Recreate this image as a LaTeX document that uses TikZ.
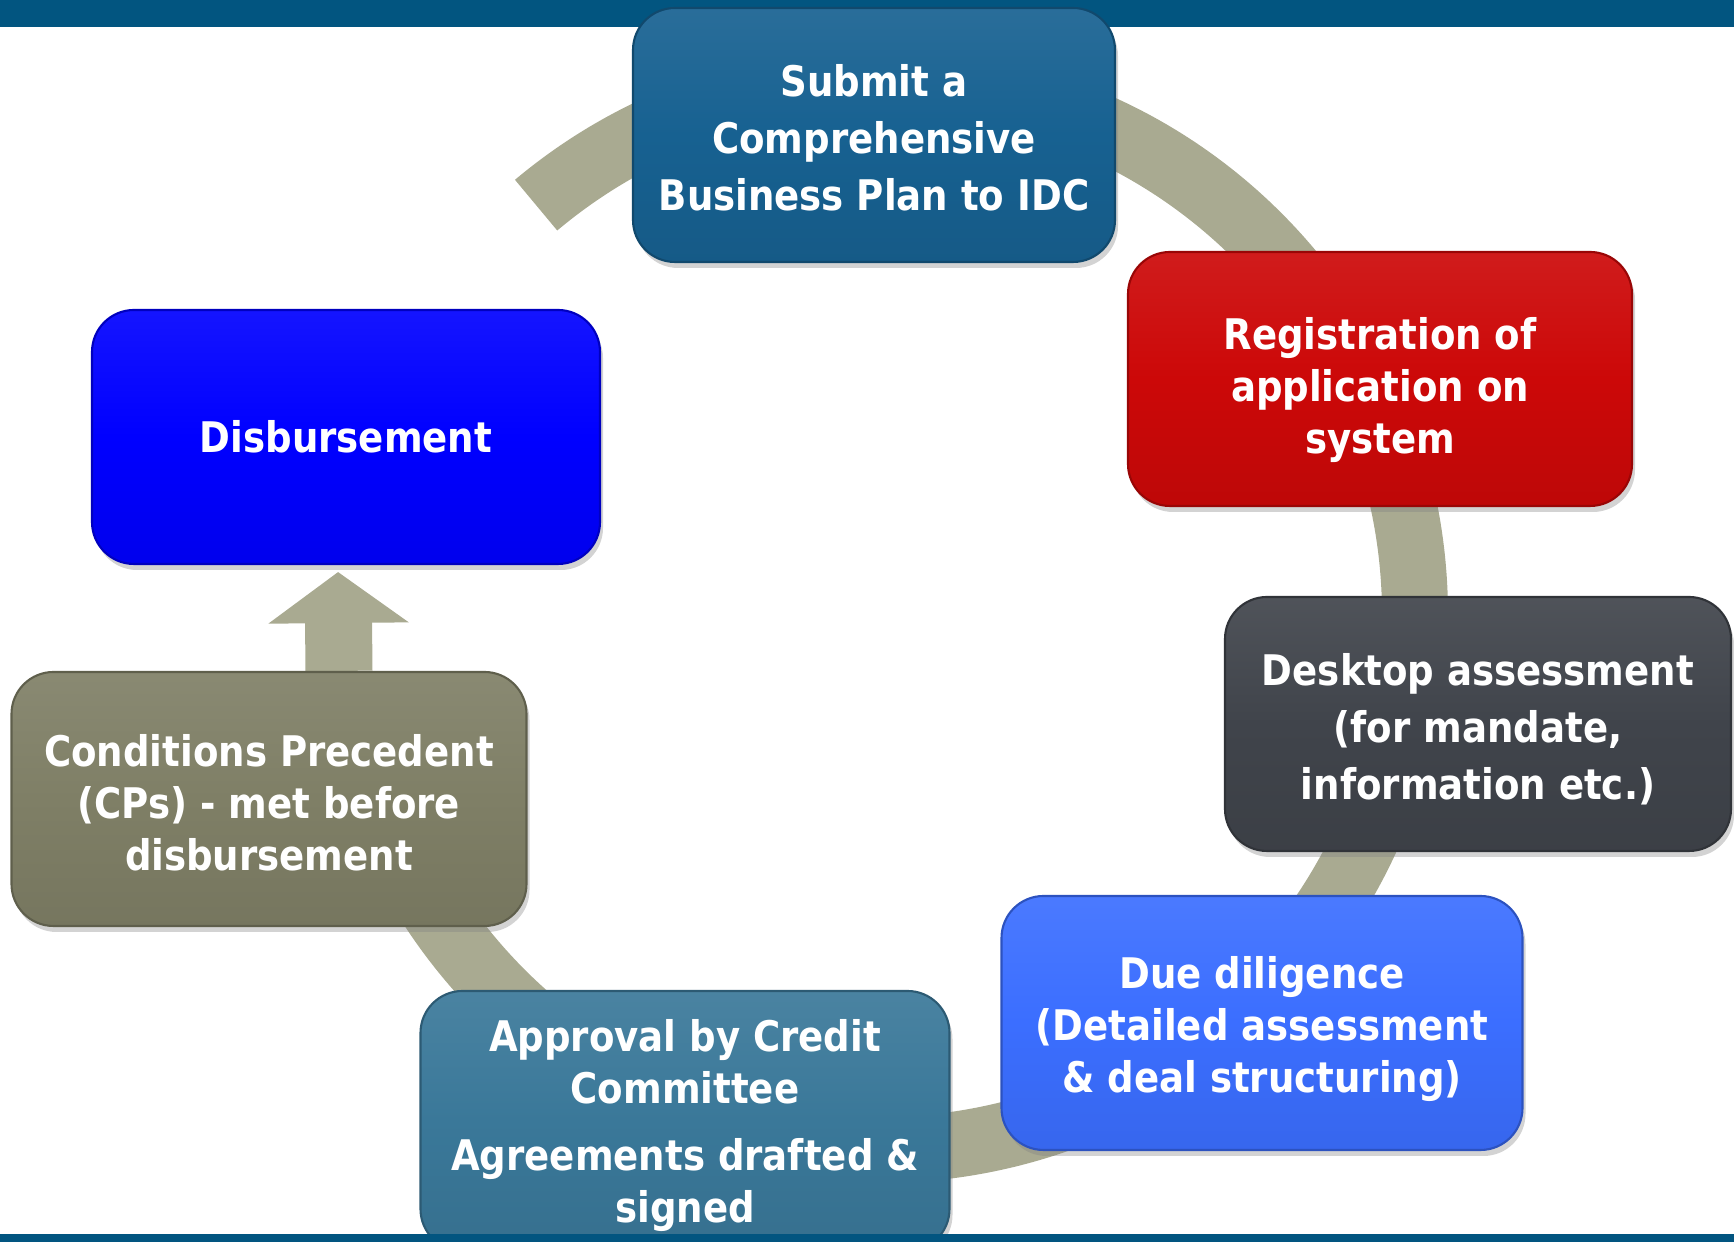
\documentclass[tikz,border=0pt]{standalone}
\usepackage{fontspec}
\setmainfont{DejaVu Sans}[FakeStretch=0.88]
\usetikzlibrary{arrows.meta,shadows,backgrounds}
\definecolor{barblue}{RGB}{2,85,128}
\definecolor{ringgray}{RGB}{169,170,145}
\definecolor{submitblue}{RGB}{23,97,145}
\definecolor{regred}{RGB}{204,8,8}
\definecolor{deskgray}{RGB}{64,68,75}
\definecolor{dueblue}{RGB}{59,110,255}
\definecolor{approvalteal}{RGB}{58,120,153}
\definecolor{cpolive}{RGB}{127,127,102}
\definecolor{disbblue}{RGB}{0,0,255}
% taller first line moves a text block down inside its box
\newcommand{\pushdown}[1]{\rule{0pt}{#1}}

\begin{document}
\begin{tikzpicture}[
  stage/.style={rounded corners=0.42cm, minimum width=5.1cm, minimum height=2.54cm,
                align=center, text=white, draw=#1!75!black, line width=0.6pt,
                top color=#1!92!white, bottom color=#1!93!black, middle color=#1,
                drop shadow={shadow xshift=0.03cm, shadow yshift=-0.06cm, opacity=0.35},
                font=\bfseries\fontsize{12}{14.8}\selectfont},
  tall/.style={font=\bfseries\fontsize{12}{16.2}\selectfont},
  ring/.style={line width=0.66cm, ringgray},
  uparrow/.style={line width=0.67cm, ringgray, -{Triangle[length=0.51cm, width=1.38cm]}}
]
  \useasboundingbox (0,0) rectangle (17.34,12.42);

  \node[stage=submitblue, tall, minimum width=4.82cm] (submit) at (8.74,11.07)
       {\pushdown{10.9pt}Submit a\\Comprehensive\\Business Plan to IDC};
  \node[stage=regred, minimum width=5.04cm] (register) at (13.80,8.63)
       {\pushdown{15.6pt}Registration of\\application on\\system};
  \node[stage=deskgray, tall, minimum width=5.06cm] (desktop) at (14.78,5.18)
       {\pushdown{12.2pt}Desktop assessment\\(for mandate,\\information etc.)};
  \node[stage=dueblue, minimum width=5.21cm] (due) at (12.62,2.19)
       {\pushdown{12.4pt}Due diligence\\(Detailed assessment\\\& deal structuring)};
  \node[stage=approvalteal, minimum width=5.29cm, minimum height=2.6cm] (approval) at (6.85,1.21)
       {\pushdown{11.7pt}Approval by Credit\\Committee\\[0.15cm]Agreements drafted \&\\signed};
  \node[stage=cpolive, minimum width=5.15cm] (cond) at (2.69,4.43)
       {\pushdown{11.3pt}Conditions Precedent\\(CPs) - met before\\disbursement};
  \node[stage=disbblue, minimum width=5.08cm] (disb) at (3.46,8.05) {Disbursement};

  \begin{scope}[on background layer]
    \fill[barblue] (0,12.15) rectangle (17.34,12.42);
    \coordinate (hub) at (8.80,6.27);
    \draw[ring] ([shift={(130:5.35)}]hub) arc[start angle=130, end angle=-150, radius=5.35];
    \draw[uparrow, shorten >=0.07cm] ([xshift=-0.07cm]cond.north -| disb.south) -- ([xshift=-0.08cm]disb.south);
  \end{scope}

  \fill[barblue] (0,0) rectangle (17.34,0.08);
\end{tikzpicture}
\end{document}
